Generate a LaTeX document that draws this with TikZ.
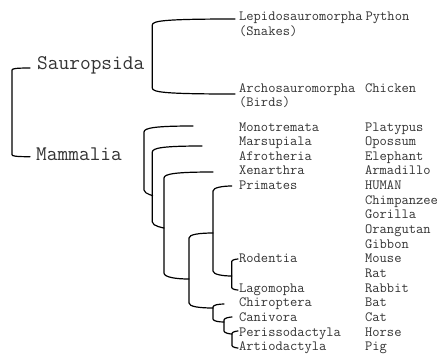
\documentclass[tikz,border=0pt]{standalone}
\usepackage{fontspec}
\tikzset{
  branch/.style={line width=1.2pt, line cap=round, line join=round},
  lab/.style={anchor=base west, inner sep=0pt, text=black!80, font=\ttfamily\fontsize{14.1}{15}\selectfont},
  biglab/.style={anchor=base west, inner sep=0pt, text=black!80, font=\ttfamily\fontsize{20.8}{22}\selectfont},
}
% #1 X of vertical, #2,#3 top tip, #4,#5 bottom end, #6 corner radius
\newcommand{\mkclade}[6]{%
  \draw[branch] (#2,#3) .. controls (#1+2*#6,#3) and (#1,#3+0.3*#6) .. (#1,#3+#6)
    -- (#1,#5-#6) .. controls (#1,#5-0.3*#6) and (#1+2*#6,#5) .. (#4,#5);}
\begin{document}
\begin{tikzpicture}[x=1pt,y=-1pt]
\useasboundingbox (0,0) rectangle (446,360);
% top-level labels
\node[biglab] (saur) at (37,69.3) {Sauropsida};
\node[biglab] (mamm) at (36,160.7) {Mammalia};
% Sauropsida
\node[lab] (lep) at (239,20) {Lepidosauromorpha};
\node[lab] (snk) at (239,35.5) {(Snakes)};
\node[lab] (arc) at (239,92.5) {Archosauromorpha};
\node[lab] (brd) at (239,106) {(Birds)};
\node[lab] (py) at (365.5,20) {Python};
\node[lab] (chk) at (365,92.5) {Chicken};
% Mammal orders
\foreach \i/\t/\n in {0/Monotremata/mono,1/Marsupiala/mars,2/Afrotheria/afro,3/Xenarthra/xena,4/Primates/prim,9/Rodentia/rode,11/Lagomopha/lago,12/Chiroptera/chir,13/Canivora/cani,14/Perissodactyla/peri,15/Artiodactyla/arti}
  \node[lab] (\n) at (239,131+14.65*\i) {\t};
% Species
\foreach \i/\t/\n in {0/Platypus/s0,1/Opossum/s1,2/Elephant/s2,3/Armadillo/s3,4/HUMAN/s4,5/Chimpanzee/s5,6/Gorilla/s6,7/Orangutan/s7,8/Gibbon/s8,9/Mouse/s9,10/Rat/s10,11/Rabbit/s11,12/Bat/s12,13/Cat/s13,14/Horse/s14,15/Pig/s15}
  \node[lab] (\n) at (365,131+14.65*\i) {\t};
% tree
\mkclade{12}{30}{68}{30}{156.7}{2}
\mkclade{152.3}{235}{19}{235}{94}{6}
\mkclade{144}{193}{126}{152.3}{196}{6}
\mkclade{152.3}{202}{146}{164}{228}{6}
\mkclade{164}{213}{172}{189}{279}{6}
\mkclade{189}{213}{233}{213}{308}{5}
\mkclade{213}{231.7}{186}{231.7}{276}{5}
\mkclade{231.7}{238}{259}{238}{290}{2.5}
\mkclade{213}{224}{304}{224}{322}{3}
\mkclade{224}{232}{317}{232}{334}{3}
\mkclade{232}{238}{331}{238}{348}{2.5}
\end{tikzpicture}
\end{document}
